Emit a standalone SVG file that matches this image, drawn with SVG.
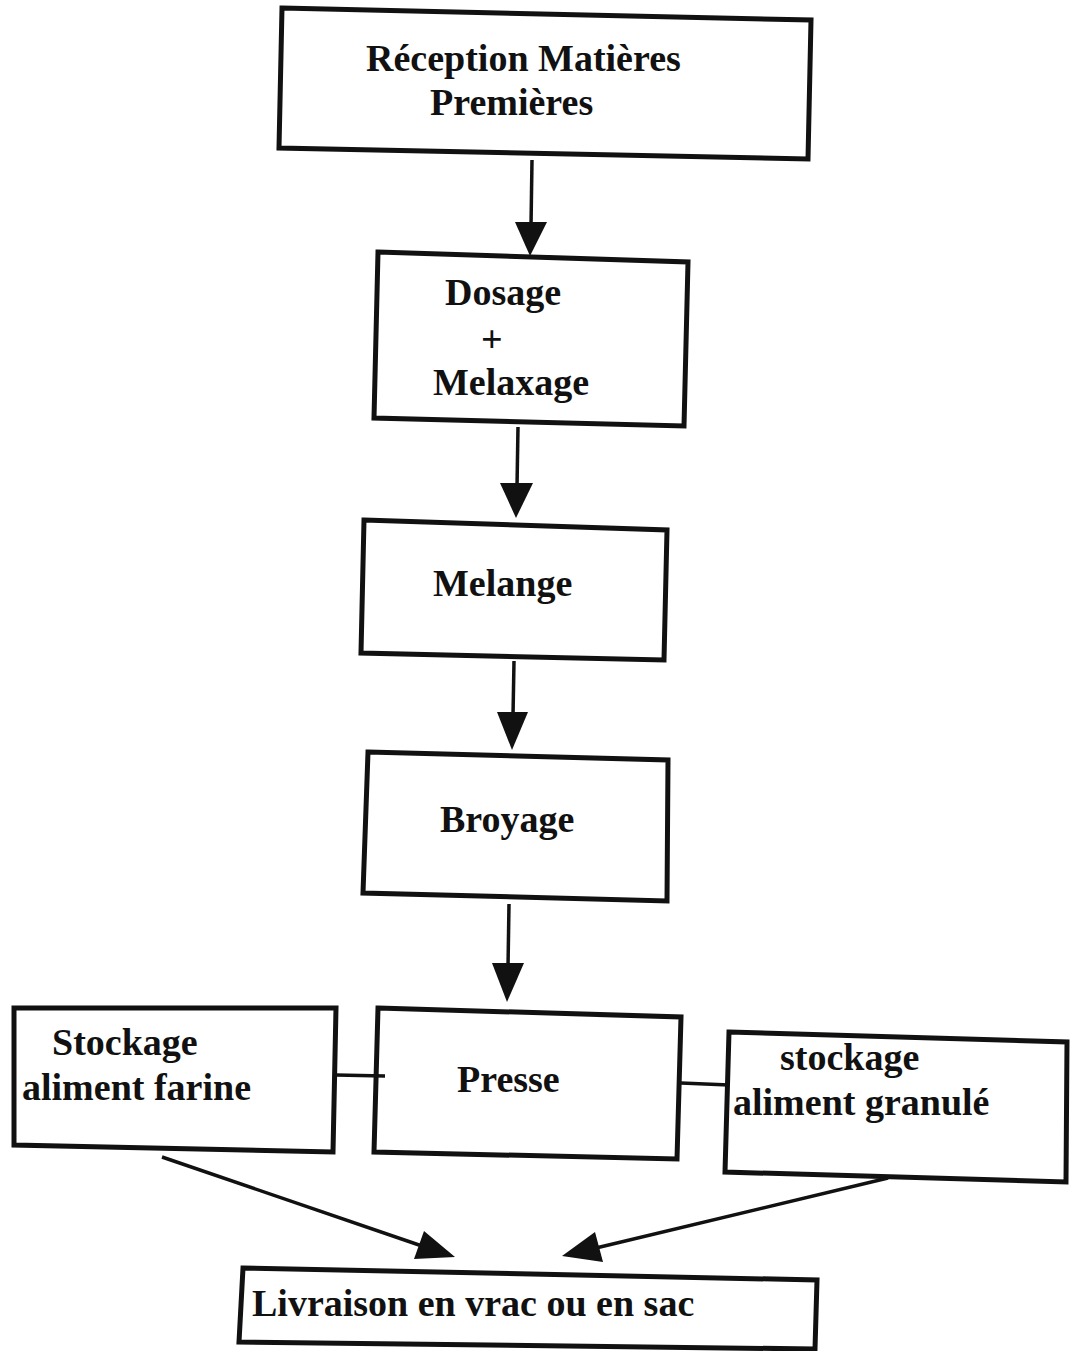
<svg xmlns="http://www.w3.org/2000/svg" width="1075" height="1351" viewBox="0 0 1075 1351">
<style>
.box{fill:#fff;stroke:#111;stroke-width:5;stroke-linejoin:miter}
.t{font-family:"Liberation Serif","Times New Roman",serif;font-weight:bold;font-size:38px;fill:#111}
.ln{stroke:#111;stroke-width:3.5;fill:none}
.hd{fill:#111;stroke:none}
</style>
<rect width="1075" height="1351" fill="#fff"/>
<g id="reception">
<polygon class="box" points="282,8 811,20 808,159 279,148"/>
<text class="t" x="366" y="71">Réception Matières</text>
<text class="t" x="430" y="115">Premières</text>
</g>
<g id="dosage">
<polygon class="box" points="378,252 688,262 684,426 374,418"/>
<text class="t" x="445" y="305">Dosage</text>
<text class="t" x="481" y="352">+</text>
<text class="t" x="433" y="395">Melaxage</text>
</g>
<g id="melange">
<polygon class="box" points="364,520 667,530 664,660 361,653"/>
<text class="t" x="433" y="596">Melange</text>
</g>
<g id="broyage">
<polygon class="box" points="368,752 668,760 667,901 363,893"/>
<text class="t" x="440" y="832">Broyage</text>
</g>
<g id="presse">
<polygon class="box" points="378,1008 681,1017 677,1159 374,1152"/>
<text class="t" x="457" y="1092">Presse</text>
</g>
<g id="stockage-farine">
<polygon class="box" points="14,1008 336,1008 333,1152 14,1145"/>
<text class="t" x="52" y="1055">Stockage</text>
<text class="t" x="22" y="1100">aliment farine</text>
</g>
<g id="stockage-granule">
<polygon class="box" points="729,1032 1067,1042 1066,1182 725,1172"/>
<text class="t" x="780" y="1070">stockage</text>
<text class="t" x="733" y="1115">aliment granulé</text>
</g>
<g id="livraison">
<polygon class="box" points="243,1268 817,1280 815,1349 239,1342"/>
<text class="t" x="252" y="1316">Livraison en vrac ou en sac</text>
</g>
<g id="connectors">
<line class="ln" x1="532" y1="160" x2="531" y2="226"/>
<polygon class="hd" points="515,222 547,222 530,256"/>
<line class="ln" x1="518" y1="427" x2="517" y2="487"/>
<polygon class="hd" points="500,483 533,483 516,518"/>
<line class="ln" x1="514" y1="661" x2="513" y2="716"/>
<polygon class="hd" points="497,712 528,712 512,750"/>
<line class="ln" x1="509" y1="904" x2="508" y2="967"/>
<polygon class="hd" points="492,963 524,963 507,1002"/>
<line class="ln" x1="336" y1="1075" x2="385" y2="1076"/>
<line class="ln" x1="681" y1="1083" x2="729" y2="1085"/>
<line class="ln" x1="162" y1="1157" x2="422" y2="1246"/>
<polygon class="hd" points="424,1231 414,1259 455,1257"/>
<line class="ln" x1="888" y1="1178" x2="596" y2="1248"/>
<polygon class="hd" points="595,1232 603,1262 562,1256"/>
</g>
</svg>
